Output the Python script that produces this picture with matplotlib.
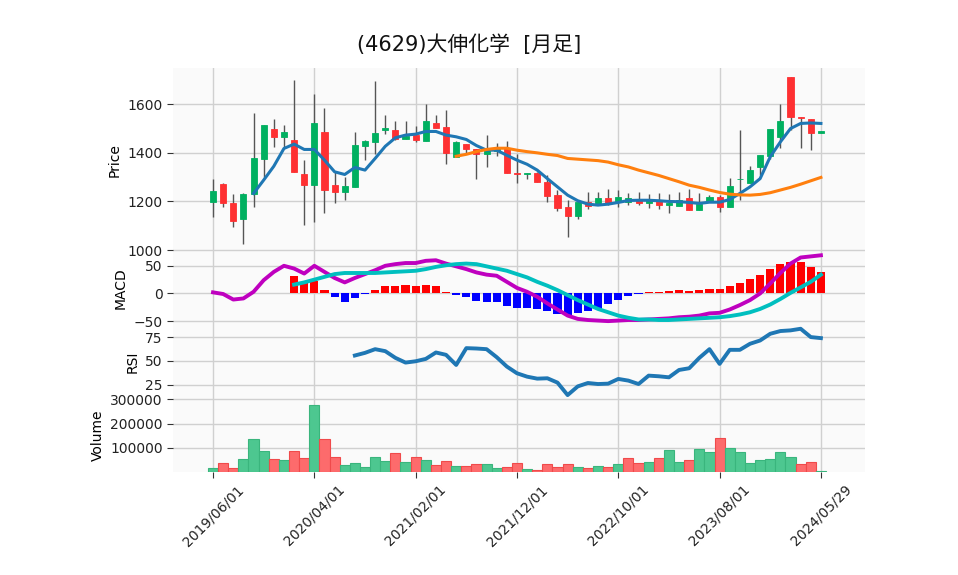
import matplotlib
matplotlib.use('Agg')
import matplotlib.pyplot as plt

plt.rcParams['font.family'] = ['DejaVu Sans', 'Noto Sans CJK JP']

title = '(4629)大伸化学  [月足]'

# monthly OHLC (index 0 = 2019/06, index 60 = 2024/05/29)
opens = [1199, 1271, 1192, 1129, 1229, 1373, 1497, 1466, 1452, 1312,
         1268, 1486, 1266, 1240, 1260, 1429, 1445, 1494, 1496, 1458,
         1473, 1449, 1522, 1505, 1384, 1438, 1414, 1396, 1408, 1422,
         1319, 1313, 1319, 1282, 1226, 1177, 1141, 1199, 1189, 1214,
         1196, 1197, 1211, 1194, 1200, 1186, 1182, 1214, 1166, 1196,
         1218, 1178, 1291, 1277, 1341, 1388, 1466, 1712, 1549, 1541,
         1481]
highs = [1292, 1275, 1229, 1233, 1566, 1516, 1541, 1514, 1701, 1370,
         1641, 1586, 1322, 1299, 1484, 1452, 1696, 1557, 1530, 1532,
         1511, 1599, 1557, 1578, 1448, 1438, 1414, 1475, 1442, 1447,
         1397, 1319, 1322, 1308, 1249, 1205, 1205, 1237, 1237, 1253,
         1249, 1233, 1237, 1230, 1233, 1229, 1237, 1251, 1233, 1225,
         1225, 1295, 1496, 1345, 1390, 1500, 1600, 1712, 1549, 1541,
         1488]
lows = [1137, 1178, 1093, 1025, 1176, 1301, 1425, 1418, 1322, 1103,
        1114, 1151, 1192, 1208, 1258, 1370, 1397, 1479, 1452, 1456,
        1444, 1449, 1501, 1356, 1384, 1397, 1292, 1340, 1388, 1316,
        1278, 1292, 1279, 1199, 1161, 1055, 1126, 1171, 1185, 1185,
        1177, 1185, 1186, 1175, 1171, 1152, 1182, 1166, 1166, 1196,
        1157, 1178, 1205, 1277, 1308, 1375, 1418, 1496, 1422, 1411,
        1481]
closes = [1242, 1194, 1120, 1230, 1377, 1514, 1466, 1485, 1322, 1268,
          1523, 1248, 1240, 1263, 1431, 1448, 1481, 1501, 1459, 1468,
          1452, 1530, 1501, 1400, 1444, 1414, 1397, 1414, 1422, 1316,
          1313, 1319, 1281, 1223, 1175, 1141, 1199, 1182, 1214, 1189,
          1218, 1214, 1194, 1208, 1185, 1192, 1208, 1166, 1190, 1218,
          1178, 1263, 1294, 1329, 1390, 1497, 1530, 1548, 1544, 1482,
          1488]
volumes = [18000, 36000, 18000, 52000, 135000, 85000, 55000, 48000, 88000, 59000,
           275000, 137000, 63000, 27000, 36000, 19000, 60000, 44000, 77000, 40000,
           63000, 48000, 27000, 47000, 23000, 23000, 32000, 32000, 15000, 19000,
           36000, 11000, 10000, 32000, 19000, 32000, 19000, 15000, 23000, 19000,
           32000, 56000, 36000, 40000, 56000, 89000, 40000, 48000, 94000, 81000,
           139000, 98000, 81000, 36000, 48000, 52000, 81000, 60000, 32000, 40000,
           3000]

# moving averages (5 and 25 months) as drawn
ma5 = [None] * 4 + [
    1233, 1288, 1345, 1418, 1436, 1414, 1414, 1370, 1322, 1311,
    1340, 1329, 1377, 1427, 1462, 1473, 1477, 1488, 1488, 1473,
    1466, 1455, 1430, 1411, 1411, 1390, 1370, 1353, 1329, 1294,
    1260, 1226, 1203, 1189, 1185, 1189, 1196, 1204, 1205, 1205,
    1203, 1200, 1199, 1196, 1192, 1197, 1197, 1208, 1233, 1260,
    1294, 1384, 1445, 1500, 1521, 1523, 1521]
ma25 = [None] * 24 + [
    1386, 1394, 1405, 1414, 1419, 1419, 1411, 1405, 1400, 1394,
    1389, 1377, 1374, 1371, 1368, 1362, 1351, 1342, 1329, 1318,
    1307, 1294, 1281, 1267, 1258, 1247, 1237, 1230, 1227, 1226,
    1229, 1236, 1247, 1258, 1271, 1285, 1299]

macd = [2, -1, -11, -9, 3, 24, 39, 50, 45, 36,
        50, 39, 28, 20, 28, 35, 42, 50, 53, 55,
        55, 59, 60, 54, 49, 44, 38, 34, 32, 21,
        10, 3, -6, -18, -29, -40, -46, -48, -49, -50,
        -49, -48, -48, -47, -46, -45, -43, -42, -40, -36,
        -35, -29, -21, -12, 0, 18, 37, 54, 65, 67,
        69]
signal = [None] * 8 + [
    16, 20, 25, 30, 35, 37, 37, 37, 37, 38,
    39, 40, 41, 44, 48, 51, 53, 54, 53, 49,
    45, 41, 35, 29, 21, 14, 6, -3, -12, -20,
    -28, -34, -40, -44, -47, -47, -48, -48, -47, -46,
    -45, -44, -43, -41, -38, -34, -28, -20, -10, 1,
    11, 21, 34]
hist = [None] * 8 + [
    31, 20, 23, 7, -6, -15, -8, -1, 7, 14,
    14, 16, 14, 16, 13, 2, -2, -7, -14, -15,
    -15, -22, -26, -26, -28, -32, -37, -39, -35, -32,
    -28, -19, -12, -4, -1, 2, 2, 5, 6, 4,
    6, 8, 8, 14, 19, 26, 34, 44, 53, 56,
    56, 48, 38]

rsi = [None] * 14 + [
    55.7, 58.5, 62.4, 60.3, 53.2, 48.2, 49.6, 52.1, 58.9, 56.4,
    45.7, 63.5, 63.1, 62.4, 53.9, 44.0, 36.9, 33.3, 31.2, 31.6,
    27.0, 13.8, 23.0, 26.6, 25.5, 25.9, 30.9, 29.1, 25.5, 34.4,
    33.7, 32.6, 40.4, 42.2, 53.2, 62.4, 46.8, 61.7, 61.7, 68.1,
    71.6, 78.7, 81.6, 82.3, 84.0, 75.2, 74.1]

tick_pos = [0, 10, 20, 30, 40, 50, 60]
tick_labels = ['2019/06/01', '2020/04/01', '2021/02/01', '2021/12/01',
               '2022/10/01', '2023/08/01', '2024/05/29']


def nan(vals):
    return [float('nan') if v is None else v for v in vals]


n = len(closes)
x = list(range(n))

fig = plt.figure(figsize=(9.58, 5.75), dpi=100)
left, width = 0.1806, 0.7223
ax_p = fig.add_axes([left, 0.5617, width, 0.3200])
ax_m = fig.add_axes([left, 0.4348, width, 0.1270], sharex=ax_p)
ax_r = fig.add_axes([left, 0.3083, width, 0.1265], sharex=ax_p)
ax_v = fig.add_axes([left, 0.1791, width, 0.1292], sharex=ax_p)

for ax in (ax_p, ax_m, ax_r, ax_v):
    ax.set_facecolor('#fafafa')
    ax.grid(True, color='#d0d0d0', linewidth=1.0)
    ax.set_axisbelow(True)
    for s in ax.spines.values():
        s.set_visible(False)
    ax.tick_params(axis='y', labelsize=10, length=4, color='#333333', labelcolor='#222222')
for ax in (ax_p, ax_m, ax_r):
    ax.tick_params(axis='x', length=0, labelbottom=False)

# candles
up_c, dn_c = '#00b060', '#fe3032'
for i in x:
    c = up_c if closes[i] >= opens[i] else dn_c
    ax_p.vlines(i, lows[i], highs[i], color='#555555', linewidth=1.0, zorder=2)
    lo, hi = min(opens[i], closes[i]), max(opens[i], closes[i])
    ax_p.bar(i, hi - lo, bottom=lo, width=0.6, color=c, edgecolor=c, linewidth=0.6, zorder=3)
ax_p.plot(x, nan(ma5), color='#1f77b4', linewidth=2.2, zorder=4)
ax_p.plot(x, nan(ma25), color='#ff7f0e', linewidth=2.2, zorder=4)
ax_p.set_ylim(992, 1749)
ax_p.set_yticks([1000, 1200, 1400, 1600])
ax_p.set_ylabel('Price', fontsize=10)

# MACD
hx = [i for i in x if hist[i] is not None]
ax_m.bar(hx, [hist[i] for i in hx], width=0.8,
         color=['red' if hist[i] >= 0 else 'blue' for i in hx], zorder=2)
ax_m.plot(x, macd, color='#bf00bf', linewidth=2.8, zorder=3)
ax_m.plot(x, nan(signal), color='#00bfbf', linewidth=2.8, zorder=3)
ax_m.set_ylim(-57, 75)
ax_m.set_yticks([-50, 0, 50])
ax_m.set_ylabel('MACD', fontsize=10)

# RSI
ax_r.plot(x, nan(rsi), color='#1f77b4', linewidth=2.8)
ax_r.set_ylim(11, 88)
ax_r.set_yticks([25, 50, 75])
ax_r.set_ylabel('RSI', fontsize=10)

# volume, coloured by close vs previous close
vup, vdn = '#4dc790', '#fd6b6c'
vcols, vedges = [], []
for i in x:
    up = i == 0 or closes[i] >= closes[i - 1]
    vcols.append(vup if up else vdn)
    vedges.append('#3ab57d' if up else '#f04a4b')
ax_v.bar(x, volumes, width=1.0, color=vcols, edgecolor=vedges, linewidth=0.8, zorder=2)
ax_v.set_ylim(0, 307000)
ax_v.set_yticks([100000, 200000, 300000])
ax_v.set_ylabel('Volume', fontsize=10)

ax_v.set_xlim(-3.95, 64.35)
ax_v.set_xticks(tick_pos)
ax_v.set_xticklabels(tick_labels, rotation=45, ha='center')
ax_v.tick_params(axis='x', length=4, color='#333333', labelsize=10,
                 labelcolor='#222222', labelbottom=True)

fig.text(0.49, 0.922, title, ha='center', va='center', fontsize=15, color='#111111')

fig.savefig('out.png', dpi=100)
